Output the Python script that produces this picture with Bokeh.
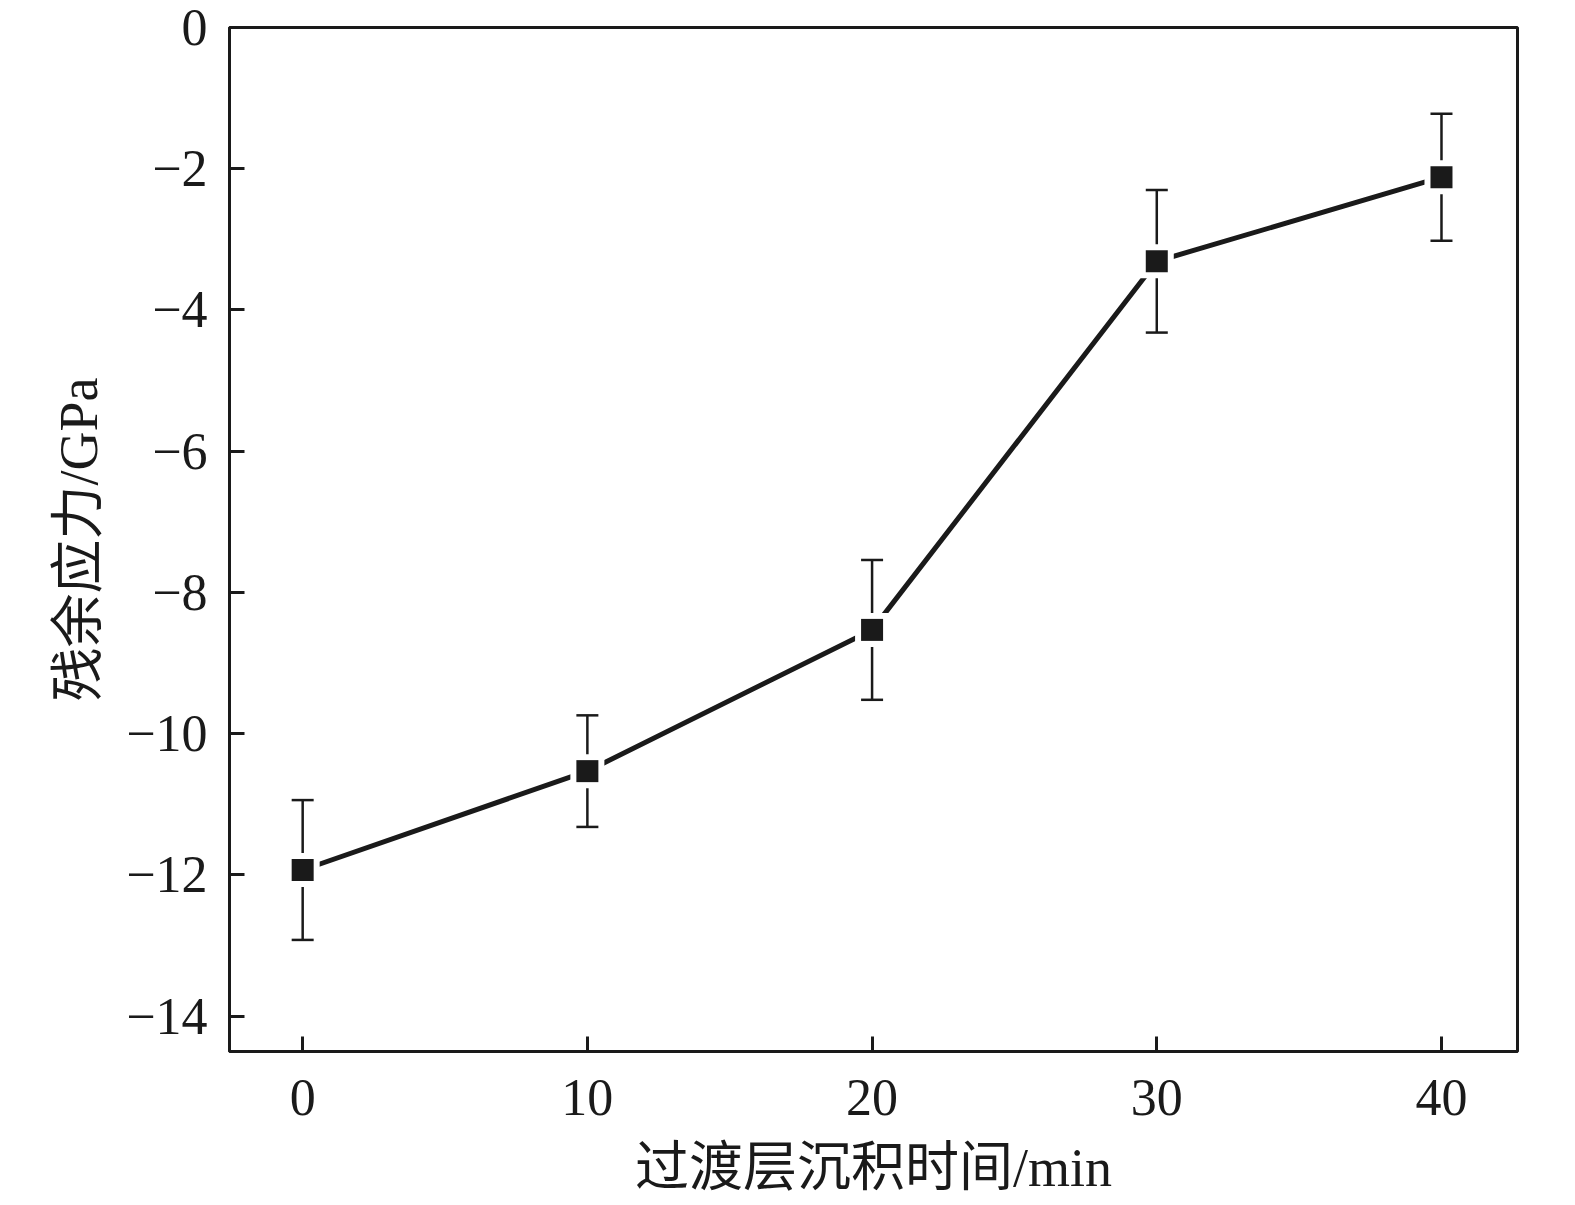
from bokeh.plotting import figure
from bokeh.models import Range1d, FixedTicker, ColumnDataSource, Whisker, TeeHead
from bokeh.embed import file_html
from bokeh.resources import INLINE

times = [0, 10, 20, 30, 40]
stress = [-11.93, -10.53, -8.53, -3.31, -2.12]
err = [0.99, 0.79, 0.99, 1.01, 0.9]
x_ticks = [0, 10, 20, 30, 40]
y_ticks = [0, -2, -4, -6, -8, -10, -12, -14]
y_tick_labels = ["0", "\u22122", "\u22124", "\u22126", "\u22128", "\u221210", "\u221212", "\u221214"]
x_label = "过渡层沉积时间/min"
y_label = "残余应力/GPa"

FONT = "'Liberation Serif', 'Times New Roman', 'Noto Sans CJK SC'"

src = ColumnDataSource(dict(
    x=times, y=stress,
    lo=[s - e for s, e in zip(stress, err)],
    hi=[s + e for s, e in zip(stress, err)],
))

p = figure(frame_width=1288, frame_height=1024,
           x_range=Range1d(-2.57, 42.67), y_range=Range1d(-14.5, 0),
           output_backend="svg", toolbar_location=None,
           min_border_left=229, min_border_top=27, min_border_right=40, min_border_bottom=10)
p.background_fill_color = "white"
p.border_fill_color = "white"
p.xgrid.visible = False
p.ygrid.visible = False
p.outline_line_color = "#1a1a1a"
p.outline_line_width = 3

p.line("x", "y", source=src, line_color="#1a1a1a", line_width=5)
p.scatter("x", "y", source=src, marker="square", size=34, fill_color="white", line_color=None)
wh = Whisker(base="x", lower="lo", upper="hi", source=src, line_color="#1a1a1a", line_width=2.5,
             upper_head=TeeHead(size=22, line_width=2.5, line_color="#1a1a1a"),
             lower_head=TeeHead(size=22, line_width=2.5, line_color="#1a1a1a"))
p.add_layout(wh)
p.scatter("x", "y", source=src, marker="square", size=22, fill_color="#1a1a1a", line_color=None)

p.xaxis.ticker = FixedTicker(ticks=x_ticks)
p.yaxis.ticker = FixedTicker(ticks=y_ticks)
p.yaxis.major_label_overrides = {t: l for t, l in zip(y_ticks, y_tick_labels)}
p.xaxis.axis_label = x_label
p.yaxis.axis_label = y_label

for ax in (p.xaxis, p.yaxis):
    ax.axis_line_color = "#1a1a1a"
    ax.axis_line_width = 3
    ax.major_tick_line_color = "#1a1a1a"
    ax.major_tick_line_width = 3
    ax.major_tick_in = 15
    ax.major_tick_out = 0
    ax.minor_tick_line_color = None
    ax.major_label_text_font = FONT
    ax.major_label_text_font_size = "52px"
    ax.major_label_text_color = "#1a1a1a"
    ax.axis_label_text_font = FONT
    ax.axis_label_text_font_size = "54px"
    ax.axis_label_text_font_style = "normal"
    ax.axis_label_text_color = "#1a1a1a"

p.xaxis.major_label_standoff = 28
p.yaxis.major_label_standoff = 22
p.xaxis.axis_label_standoff = 20
p.yaxis.axis_label_standoff = 14

open("out.html", "w").write(file_html(p, INLINE))
